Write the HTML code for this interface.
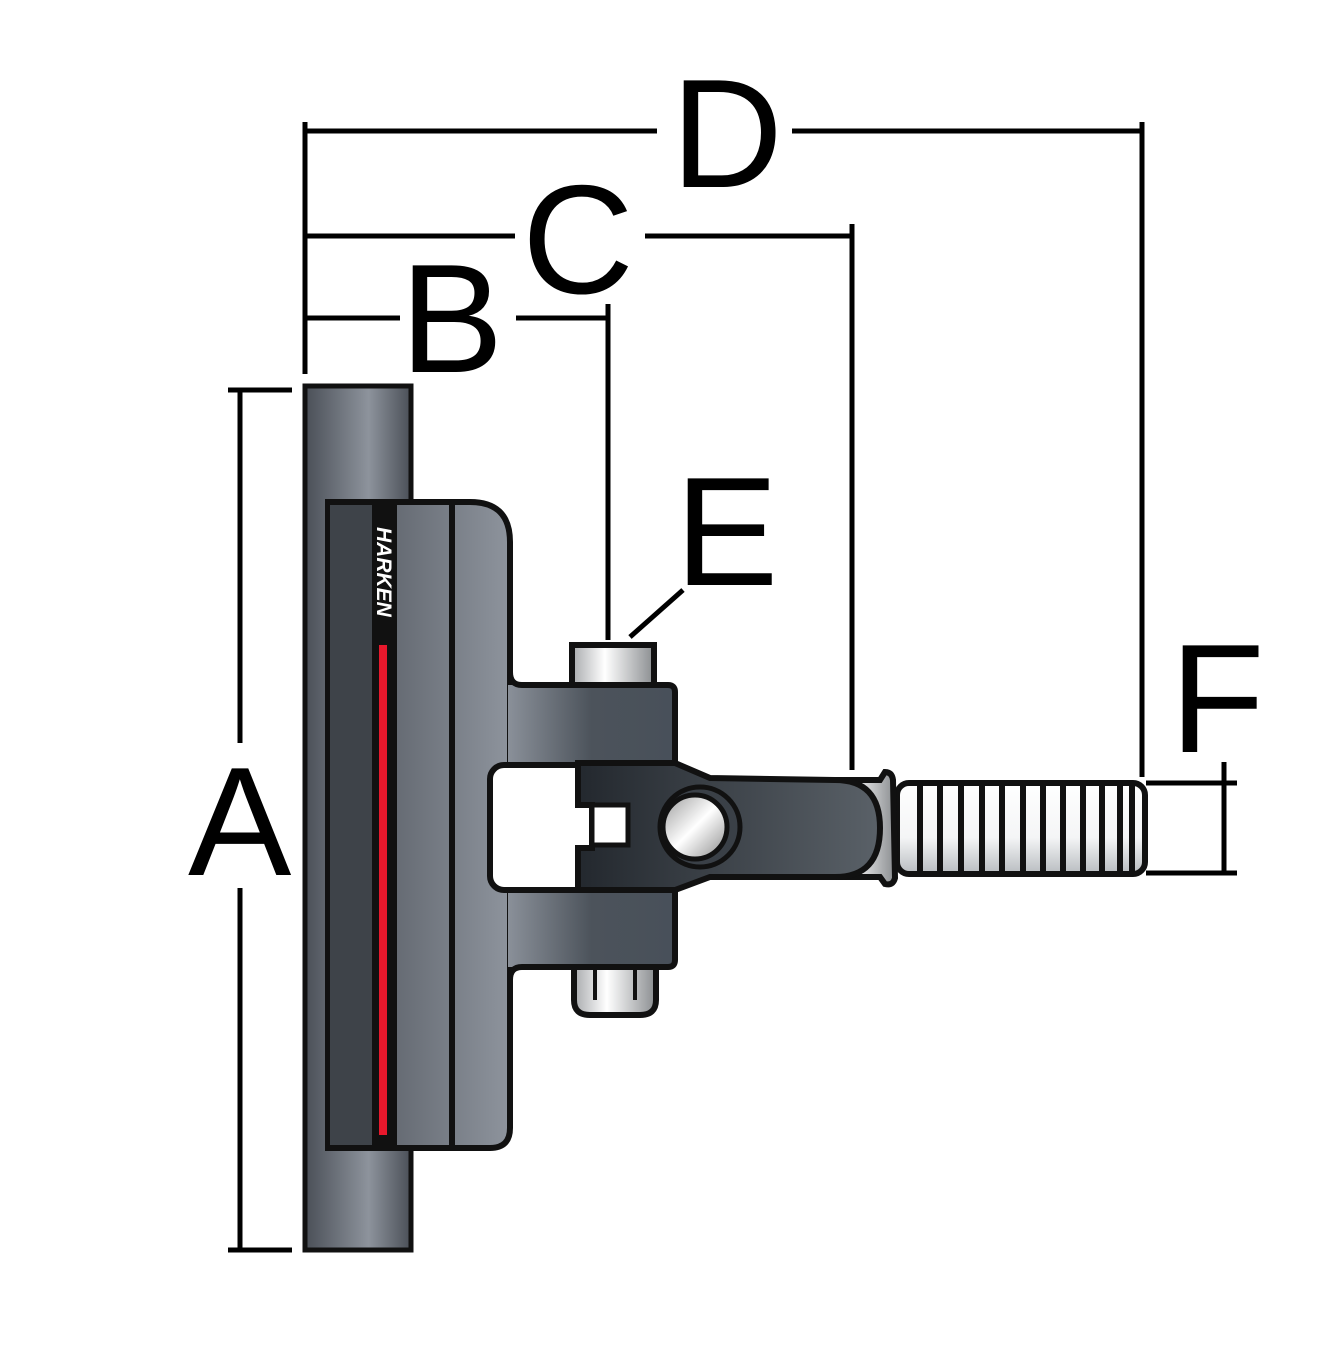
<!DOCTYPE html>
<html><head><meta charset="utf-8"><style>
html,body{margin:0;padding:0;background:#fff;}
svg{display:block;}
text{font-family:"Liberation Sans",sans-serif;fill:#000;}
</style></head><body>
<svg width="1334" height="1350" viewBox="0 0 1334 1350" xmlns="http://www.w3.org/2000/svg">
<defs>
<linearGradient id="tube" x1="0" x2="1" y1="0" y2="0">
<stop offset="0" stop-color="#4a4f57"/><stop offset="0.6" stop-color="#8d939c"/><stop offset="1" stop-color="#4a4f57"/>
</linearGradient>
<linearGradient id="blk" x1="0" x2="1" y1="0" y2="0">
<stop offset="0" stop-color="#4e535b"/><stop offset="1" stop-color="#8e949d"/>
</linearGradient>
<linearGradient id="arm" x1="0" x2="1" y1="0" y2="0">
<stop offset="0" stop-color="#8a9099"/><stop offset="0.5" stop-color="#4c535b"/><stop offset="1" stop-color="#48505a"/>
</linearGradient>
<linearGradient id="clev" x1="0" x2="1" y1="0" y2="0">
<stop offset="0" stop-color="#23282e"/><stop offset="1" stop-color="#5a6168"/>
</linearGradient>
<linearGradient id="metal" x1="0" x2="1" y1="0" y2="0">
<stop offset="0" stop-color="#a8aaad"/><stop offset="0.4" stop-color="#fff"/><stop offset="1" stop-color="#8a8d90"/>
</linearGradient>
<linearGradient id="rod" x1="0" x2="0" y1="0" y2="1">
<stop offset="0" stop-color="#fff"/><stop offset="0.6" stop-color="#f4f5f6"/><stop offset="1" stop-color="#b8bcc0"/>
</linearGradient>
<linearGradient id="ball" x1="0" x2="1" y1="0" y2="1">
<stop offset="0" stop-color="#999"/><stop offset="0.5" stop-color="#fff"/><stop offset="1" stop-color="#888"/>
</linearGradient>
</defs>

<g stroke="#000" stroke-width="5" fill="none">
<line x1="305" y1="122" x2="305" y2="374"/>
<line x1="305" y1="131" x2="657" y2="131"/>
<line x1="792" y1="131" x2="1142" y2="131"/>
<line x1="1142" y1="122" x2="1142" y2="777"/>
<line x1="305" y1="236" x2="515" y2="236"/>
<line x1="645" y1="236" x2="852" y2="236"/>
<line x1="852" y1="224" x2="852" y2="770"/>
<line x1="305" y1="318" x2="400" y2="318"/>
<line x1="516" y1="318" x2="608" y2="318"/>
<line x1="608" y1="304" x2="608" y2="640"/>
<line x1="240" y1="390" x2="240" y2="743"/>
<line x1="240" y1="888" x2="240" y2="1250"/>
<line x1="228" y1="390" x2="292" y2="390"/>
<line x1="228" y1="1250" x2="292" y2="1250"/>
<line x1="1146" y1="783" x2="1237" y2="783"/>
<line x1="1146" y1="873" x2="1237" y2="873"/>
<line x1="1224" y1="762" x2="1224" y2="873"/>
<line x1="630" y1="637" x2="683" y2="590"/>
</g>

<text x="671" y="187" font-size="155">D</text>
<text x="522" y="293" font-size="155">C</text>
<text x="400" y="372" font-size="155">B</text>
<text x="675" y="585" font-size="155">E</text>
<text x="1170" y="752" font-size="155">F</text>
<text x="188" y="875" font-size="155">A</text>

<rect x="305" y="386" width="106" height="864" fill="url(#tube)" stroke="#111" stroke-width="5"/>

<!-- main block -->
<path d="M328 502 L470 502 Q510 502 510 542 L510 1128 Q510 1148 490 1148 L328 1148 Z" fill="url(#blk)" stroke="#111" stroke-width="6"/>
<rect x="330" y="505" width="44" height="640" fill="#3e4349"/>
<rect x="372" y="505" width="25" height="640" fill="#111"/>
<rect x="379" y="645" width="8" height="490" fill="#e8182c"/>
<text transform="translate(377,527) rotate(90)" font-size="21" font-weight="bold" font-style="italic" style="fill:#fff">HARKEN</text>
<line x1="452" y1="505" x2="452" y2="1145" stroke="#111" stroke-width="6"/>

<!-- arm region -->
<path d="M508 685 L668 685 Q675 685 675 692 L675 960 Q675 967 668 967 L508 967 Z" fill="url(#arm)"/>
<path d="M510 672 Q510 685 522 685 L668 685 Q675 685 675 692 L675 960 Q675 967 668 967 L522 967 Q510 967 510 980" fill="none" stroke="#111" stroke-width="6"/>
<!-- slot -->
<rect x="490" y="765" width="110" height="125" rx="14" fill="#fff" stroke="#111" stroke-width="6"/>

<rect x="572" y="645" width="82" height="40" fill="url(#metal)" stroke="#111" stroke-width="6"/>
<path d="M574 967 L656 967 L656 1000 Q656 1015 640 1015 L590 1015 Q574 1015 574 1000 Z" fill="url(#metal)" stroke="#111" stroke-width="6"/>
<line x1="595" y1="970" x2="595" y2="1000" stroke="#111" stroke-width="4"/>
<line x1="635" y1="970" x2="635" y2="1000" stroke="#111" stroke-width="4"/>

<rect x="897" y="783" width="248" height="91" rx="12" fill="url(#rod)" stroke="#111" stroke-width="6"/>
<g stroke="#111" stroke-width="6">
<line x1="920" y1="786" x2="920" y2="871"/><line x1="940" y1="786" x2="940" y2="871"/>
<line x1="961" y1="786" x2="961" y2="871"/><line x1="982" y1="786" x2="982" y2="871"/>
<line x1="1002" y1="786" x2="1002" y2="871"/><line x1="1023" y1="786" x2="1023" y2="871"/>
<line x1="1043" y1="786" x2="1043" y2="871"/><line x1="1063" y1="786" x2="1063" y2="871"/>
<line x1="1083" y1="786" x2="1083" y2="871"/><line x1="1102" y1="786" x2="1102" y2="871"/>
<line x1="1120" y1="786" x2="1120" y2="871"/><line x1="1132" y1="786" x2="1132" y2="871"/>
</g>
<path d="M820 780 L880 780 L885 772 Q892 772 893 780 L895 878 Q893 886 885 884 L880 877 L820 877 Z" fill="url(#metal)" stroke="#111" stroke-width="6"/>

<path d="M578 763 L675 763 L710 778 L835 780 Q880 780 880 828 Q880 877 835 877 L710 877 L675 890 L578 890 L578 848 L592 848 L592 805 L578 805 Z" fill="url(#clev)" stroke="#111" stroke-width="6"/>
<rect x="592" y="805" width="36" height="40" fill="#fff" stroke="#111" stroke-width="5"/>
<circle cx="700" cy="827" r="40" fill="#3a4047" stroke="#111" stroke-width="5"/>
<circle cx="695" cy="827" r="32" fill="url(#ball)" stroke="#111" stroke-width="5"/>
</svg>
</body></html>
